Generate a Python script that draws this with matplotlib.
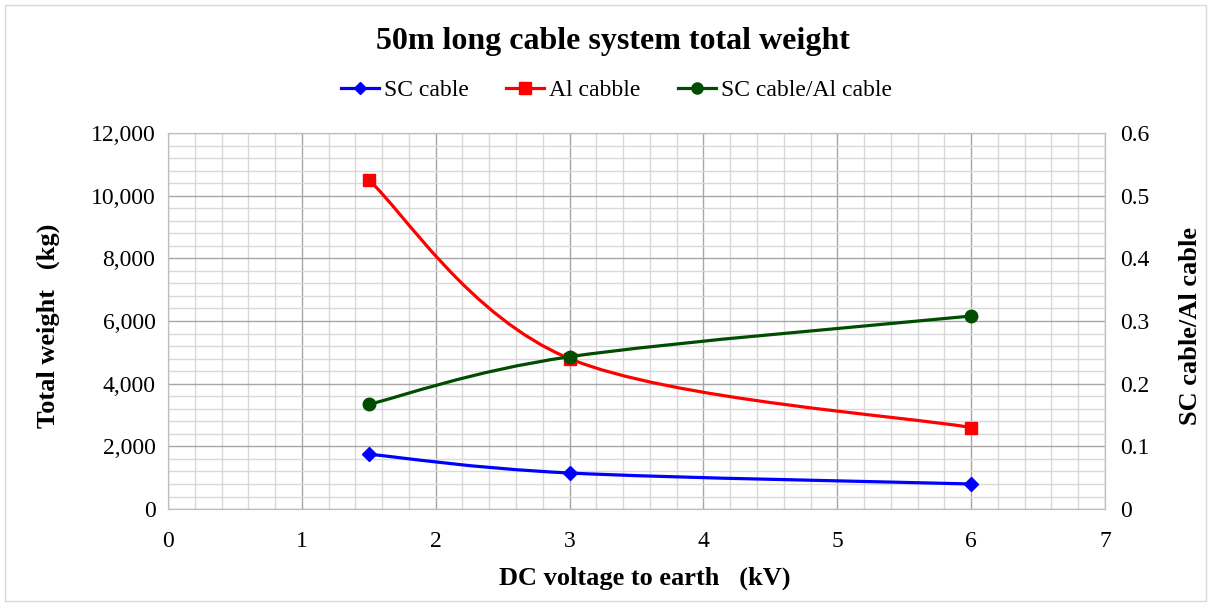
import matplotlib
matplotlib.use("Agg")
import matplotlib.pyplot as plt
import numpy as np
from matplotlib.path import Path
from matplotlib.patches import PathPatch, Rectangle
from matplotlib.lines import Line2D
from matplotlib.ticker import MultipleLocator, FuncFormatter

plt.rcParams['font.family'] = ['Liberation Serif', 'DejaVu Serif']

# data
voltage = [1.5, 3, 6]
sc_cable = [1750, 1150, 800]
al_cable = [10500, 4800, 2600]
ratio = [0.167, 0.243, 0.308]


def smooth_path(xs, ys):
    # Excel-style smoothed line: cubic Bezier through the points
    pts = np.column_stack([xs, ys]).astype(float)
    n = len(pts)
    verts = [pts[0]]
    codes = [Path.MOVETO]
    for i in range(n - 1):
        p0 = pts[i - 1] if i > 0 else pts[i]
        p1 = pts[i]
        p2 = pts[i + 1]
        p3 = pts[i + 2] if i + 2 < n else pts[i + 1]
        c1 = p1 + (p2 - p0) / 6.0
        c2 = p2 - (p3 - p1) / 6.0
        verts += [c1, c2, p2]
        codes += [Path.CURVE4] * 3
    return Path(verts, codes)


fig = plt.figure(figsize=(12.11, 6.06), dpi=100)
fig.patches.append(Rectangle((0.004, 0.008), 0.992, 0.984, transform=fig.transFigure,
                             fill=False, edgecolor='#d9d9d9', linewidth=1))
ax = fig.add_axes([0.1387, 0.160, 0.7738, 0.6205])
ax2 = ax.twinx()

ax.set_xlim(0, 7)
ax.set_ylim(0, 12000)
ax2.set_ylim(0, 0.6)

ax.xaxis.set_major_locator(MultipleLocator(1))
ax.xaxis.set_minor_locator(MultipleLocator(0.2))
ax.yaxis.set_major_locator(MultipleLocator(2000))
ax.yaxis.set_minor_locator(MultipleLocator(400))
ax2.yaxis.set_major_locator(MultipleLocator(0.1))
ax.yaxis.set_major_formatter(FuncFormatter(lambda v, p: f"{int(v):,}"))
ax2.yaxis.set_major_formatter(FuncFormatter(lambda v, p: "0" if v == 0 else f"{v:.1f}"))

ax.grid(which='major', color='#a6a6a6', linewidth=1.0)
ax.grid(which='minor', color='#d9d9d9', linewidth=1.0)
ax.set_axisbelow(True)
for a in (ax, ax2):
    for s in a.spines.values():
        s.set_color('#bfbfbf')
    a.tick_params(which='both', length=0, labelsize=17)
ax.tick_params(axis='x', pad=16)
ax.tick_params(axis='y', pad=9)
ax2.tick_params(axis='y', pad=11)

# lines
ax.add_patch(PathPatch(smooth_path(voltage, sc_cable), fill=False, edgecolor='#0000ff', linewidth=2.3, zorder=3))
ax.plot(voltage, sc_cable, linestyle='none', marker='D', markersize=7, color='#0000ff', zorder=4)
ax.add_patch(PathPatch(smooth_path(voltage, al_cable), fill=False, edgecolor='#ff0000', linewidth=2.3, zorder=3))
ax.plot(voltage, al_cable, linestyle='none', marker='s', markersize=9, color='#ff0000', zorder=4)
ax2.add_patch(PathPatch(smooth_path(voltage, ratio), fill=False, edgecolor='#004d00', linewidth=2.3, zorder=3))
ax2.plot(voltage, ratio, linestyle='none', marker='o', markersize=9, color='#004d00', zorder=4)

fig.text(0.532, 0.046, 'DC voltage to earth   (kV)', ha='center', va='center',
         fontsize=19, fontweight='bold')
fig.text(0.040, 0.462, 'Total weight   (kg)', ha='center', va='center', rotation=90,
         fontsize=19, fontweight='bold')
fig.text(0.983, 0.462, 'SC cable/Al cable', ha='center', va='center', rotation=90,
         fontsize=19, fontweight='bold')

fig.text(0.506, 0.931, '50m long cable system total weight', ha='center', va='center',
         fontsize=23, fontweight='bold')

handles = [
    Line2D([], [], color='#0000ff', marker='D', markersize=6, linewidth=2.3),
    Line2D([], [], color='#ff0000', marker='s', markersize=8, linewidth=2.3),
    Line2D([], [], color='#004d00', marker='o', markersize=8, linewidth=2.3),
]
fig.legend(handles, ['SC cable', 'Al cabble', 'SC cable/Al cable'], loc='center',
           bbox_to_anchor=(0.509, 0.851), ncol=3, frameon=False, fontsize=17,
           handlelength=1.6, handletextpad=0.2, columnspacing=1.6)

fig.savefig('out.png', dpi=100)
